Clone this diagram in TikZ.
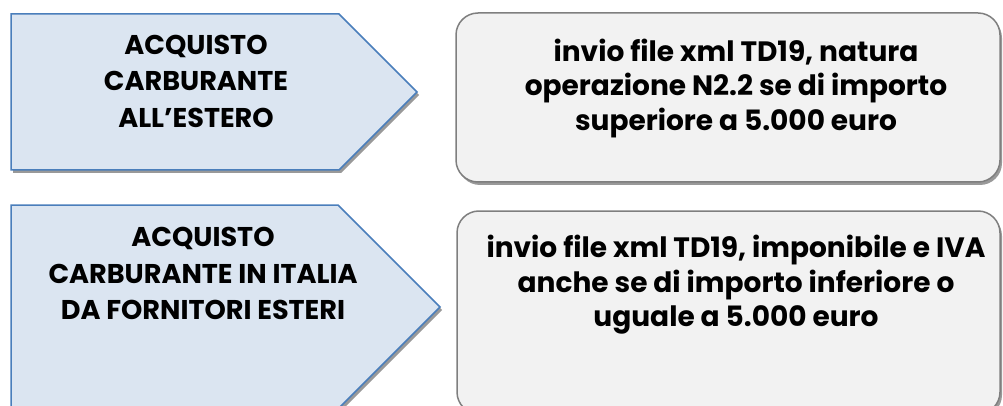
\documentclass[tikz,border=0pt]{standalone}
\usepackage{fontspec}
\setmainfont{Poppins}
\usetikzlibrary{shadows}
\definecolor{pentfill}{HTML}{DBE5F1}
\definecolor{pentdraw}{HTML}{4A7EBB}
\definecolor{boxfill}{HTML}{F2F2F2}
\definecolor{boxdraw}{HTML}{7F7F7F}
\newlength\wleft
\newlength\wright
\begin{document}
\settowidth\wleft{\bfseries\fontsize{10pt}{12pt}\selectfont CARBURANTE IN ITALIA}%
\settowidth\wright{\bfseries\fontsize{10pt}{12pt}\selectfont invio file xml TD19, imponibile e IVA}%
\pgfmathsetmacro\lfs{10*309/\wleft}%
\pgfmathsetmacro\rfs{10*499/\wright}%
\begin{tikzpicture}[x=1pt,y=-1pt,
  shad/.style={drop shadow={shadow xshift=2pt,shadow yshift=-3pt,opacity=0.4,fill=black}},
  pent/.style={fill=pentfill,draw=pentdraw,line width=1.5pt,line join=miter,shad},
  rbox/.style={fill=boxfill,draw=boxdraw,line width=1.5pt,rounded corners=22pt,shad},
  lbl/.style={align=center,inner sep=0pt,text=black,anchor=north},
  lfont/.style={font=\bfseries\fontsize{\lfs pt}{36.5pt}\selectfont},
  rfont/.style={font=\bfseries\fontsize{\rfs pt}{34.8pt}\selectfont}]
\useasboundingbox (0,0) rectangle (1003,406);
\begin{scope}
\clip (0,0) rectangle (1003,406);
\path[pent] (11,14) -- (339,14) -- (417,92) -- (339,170) -- (11,170) -- cycle;
\path[pent] (11,205) -- (338,205) -- (440,307) -- (338,409) -- (11,409) -- cycle;
\path[rbox] (456,13) rectangle (1000,182);
\path[rbox] (457,211) rectangle (1000,414);
\end{scope}
\node[lbl,lfont] (a1) at (196,24) {\rule{0pt}{30pt}ACQUISTO\\CARBURANTE\\ALL’ESTERO};
\node[lbl,lfont] (a2) at (203,216.5) {\rule{0pt}{30pt}ACQUISTO\\CARBURANTE IN ITALIA\\DA FORNITORI ESTERI};
\node[lbl,rfont] (b1) at (736,31) {\rule{0pt}{30pt}invio file xml TD19, natura\\operazione N2.2 se di importo\\superiore a 5.000 euro};
\node[lbl,rfont] (b2) at (736,227) {\rule{0pt}{30pt}invio file xml TD19, imponibile e IVA\\anche se di importo inferiore o\\uguale a 5.000 euro};
\end{tikzpicture}
\end{document}
